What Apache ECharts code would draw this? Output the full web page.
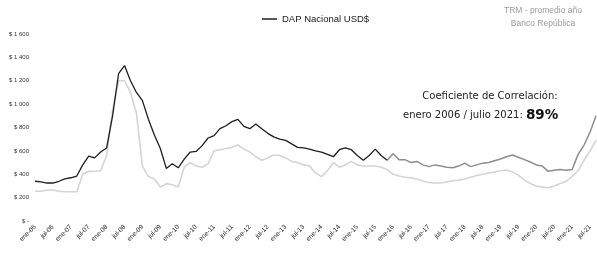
<!DOCTYPE html>
<html>
<head>
<meta charset="utf-8">
<script src="https://cdn.jsdelivr.net/npm/echarts@6/dist/echarts.min.js"></script>
<style>
  html, body { margin: 0; padding: 0; background: #fff; }
  #chart { width: 597px; height: 259px; }
</style>
</head>
<body>
<div id="chart"></div>
<script>
// bimonthly points, ene-06 .. sep-21
const monthNames = ['ene', 'mar', 'may', 'jul', 'sep', 'nov'];
const yearNames = ['06','07','08','09','10','11','12','13','14','15','16','17','18','19','20','21'];

// DAP Nacional USD$
const dapValues = [
  340, 335, 325, 325, 340, 360,
  370, 385, 480, 555, 540, 590,
  625, 900, 1260, 1330, 1200, 1100,
  1030, 870, 735, 620, 450, 490,
  455, 530, 590, 595, 645, 710,
  730, 790, 815, 850, 870, 810,
  790, 830, 790, 750, 720, 700,
  690, 660, 630, 625, 615, 600,
  590, 570, 550, 610, 625, 610,
  560, 520, 560, 615, 560, 520,
  575, 525, 525, 500, 510, 480,
  465, 480, 470, 460, 455, 470,
  495, 465, 480, 495, 500, 515,
  530, 550, 565, 545, 525, 505,
  480, 470, 425, 435, 440, 435,
  440, 570, 650, 760, 900
];

// TRM - promedio año (scaled)
const trmValues = [
  255, 255, 265, 265, 255, 250,
  250, 250, 400, 425, 425, 430,
  560, 950, 1200, 1200, 1100, 920,
  470, 380, 360, 290, 320, 310,
  290, 460, 500, 470, 460, 490,
  600, 610, 620, 630, 650, 615,
  590, 550, 520, 540, 565, 560,
  540, 510, 500, 480, 470, 410,
  380, 430, 500, 460, 480, 510,
  480, 470, 470, 470, 460, 440,
  400, 385, 375, 370, 360, 340,
  330, 325, 325, 335, 345, 350,
  360, 375, 390, 400, 410, 420,
  430, 436, 420, 390, 350, 320,
  300, 290, 285, 300, 320, 340,
  380, 430, 520, 600, 690
];

const splitIndex = 59; // DAP line turns gray from here

let categories = [];
yearNames.forEach(y => monthNames.forEach(m => categories.push(m + '-' + y)));
categories = categories.slice(0, dapValues.length);

const dapDark = dapValues.map((v, i) => i <= splitIndex ? v : null);
const dapGray = dapValues.map((v, i) => i >= splitIndex ? v : null);

const chart = echarts.init(document.getElementById('chart'));
chart.setOption({
  animation: false,
  grid: { left: 35, right: 1, top: 34, bottom: 38 },
  legend: {
    data: ['DAP Nacional USD$'],
    top: 9,
    left: 257,
    icon: 'rect',
    itemWidth: 15,
    itemHeight: 1.5,
    itemGap: 3,
    textStyle: { fontSize: 9.5, color: '#222', fontFamily: 'Liberation Sans' }
  },
  xAxis: {
    type: 'category',
    data: categories,
    boundaryGap: false,
    axisLine: { show: false },
    axisTick: { show: false },
    axisLabel: {
      interval: 2,
      rotate: 45,
      fontSize: 6.5,
      color: '#222',
      margin: 5,
      fontFamily: 'Liberation Sans'
    }
  },
  yAxis: {
    type: 'value',
    min: 0,
    max: 1600,
    interval: 200,
    axisLine: { show: false },
    axisTick: { show: false },
    splitLine: { show: false },
    axisLabel: {
      fontSize: 6,
      color: '#333',
      margin: 6,
      fontFamily: 'Liberation Sans',
      formatter: function (v) {
        if (v === 0) return '$ -';
        let s = String(v);
        if (v >= 1000) s = s.slice(0, s.length - 3) + ' ' + s.slice(-3);
        return '$ ' + s;
      }
    }
  },
  series: [
    {
      name: 'TRM - promedio año',
      type: 'line',
      data: trmValues,
      symbol: 'none',
      lineStyle: { color: '#d4d4d4', width: 1.6 },
      itemStyle: { color: '#d4d4d4' },
      z: 1
    },
    {
      name: 'DAP gris',
      type: 'line',
      data: dapGray,
      symbol: 'none',
      lineStyle: { color: '#8e8e8e', width: 1.5 },
      itemStyle: { color: '#8e8e8e' },
      z: 2
    },
    {
      name: 'DAP Nacional USD$',
      type: 'line',
      data: dapDark,
      symbol: 'none',
      lineStyle: { color: '#1e1e1e', width: 1.3 },
      itemStyle: { color: '#1e1e1e' },
      z: 3
    }
  ],
  graphic: [
    {
      type: 'text',
      x: 543,
      y: 4,
      style: {
        text: 'TRM - promedio año\nBanco República',
        fill: '#9a9a9a',
        font: '8.5px "Liberation Sans"',
        align: 'center',
        lineHeight: 13
      }
    },
    {
      type: 'text',
      x: 490,
      y: 91,
      style: {
        text: 'Coeficiente de Correlación:',
        fill: '#222',
        font: '10px "DejaVu Sans"',
        align: 'center'
      }
    },
    {
      type: 'text',
      x: 403,
      y: 108,
      style: {
        text: '{a|enero 2006 / julio 2021: }{b|89%}',
        rich: {
          a: { fill: '#222', font: '10px "DejaVu Sans"' },
          b: { fill: '#111', font: 'bold 13.5px "DejaVu Sans"' }
        }
      }
    }
  ]
});
</script>
</body>
</html>
